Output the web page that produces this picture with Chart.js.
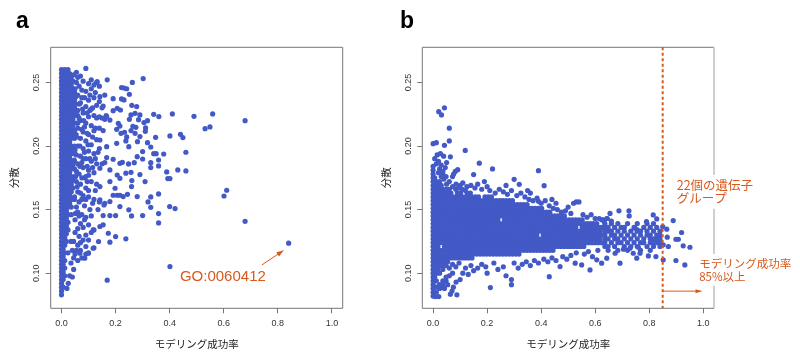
<!DOCTYPE html>
<html><head><meta charset="utf-8">
<script src="https://cdn.jsdelivr.net/npm/chart.js@4.4.1/dist/chart.umd.min.js"></script>
<style>
html,body{margin:0;padding:0;background:#fff;}
#wrap{position:relative;width:800px;height:356px;overflow:hidden;}
#ca{position:absolute;left:0;top:0;}
#cb{position:absolute;left:370px;top:0;}
</style></head><body>
<div id="wrap"><canvas id="ca" width="370" height="356"></canvas><canvas id="cb" width="430" height="356"></canvas></div>
<script>
// ---------------- DATA ----------------
const xTicks = [0, 0.2, 0.4, 0.6, 0.8, 1.0];
const yTicks = [0.10, 0.15, 0.20, 0.25];
const xTitle = 'モデリング成功率';
const yTitle = '分散';
const panelLetters = ['a', 'b'];
const goLabel = 'GO:0060412';
const noteGroup = ['22個の遺伝子', 'グループ'];
const noteRate = ['モデリング成功率', '85%以上'];
const cutoff = 0.85;

// panel a: dense column, rows of [variance*1000, [success rate*1000 ...]]
const aCoreRows = [
[260,[0,12,24]],[257,[0,6,18,30]],[254,[0,12,24,36]],[251,[0,6,18,30,42]],[248,[0,12,24,36]],
[245,[0,6,18,30,42]],[242,[0,12,24,36,48]],[239,[0,6,18,30,42,54]],[236,[0,12,24,36,48]],
[233,[0,6,18,30,42,54]],[230,[0,12,24,36,48]],[227,[0,6,18,30,42,54]],[224,[0,12,24,36,48,60]],
[221,[0,6,18,30,42]],[218,[0,12,24,36,48,60]],[215,[0,6,18,30,42]],[212,[0,12,24,36,48]],
[209,[0,6,18,30,42,54]],[206,[0,12,24,36,48]],[203,[0,6,18,30]],[200,[0,12,24,36,48]],
[197,[0,6,18,30,42]],[194,[0,12,24,36,48]],[191,[0,6,18,30]],[188,[0,12,24,36,48]],
[185,[0,6,18,30,42]],[182,[0,12,24,36,48]],[179,[0,6,18,30]],[176,[0,12,24,36,48]],
[173,[0,6,18,30,42]],[170,[0,12,24,36]],[167,[0,6,18,30,42]],[164,[0,12,24,36]],
[161,[0,6,18,30]],[158,[0,12,24,36,48]],[155,[0,6,18,30]],[152,[0,12,24,36]],[149,[0,6,18]],
[146,[0,12,24,36]],[143,[0,6,18]],[140,[0,12,24]],[137,[0,6,18]],[134,[0,12,24]],[131,[0,6,18]],
[128,[0,12]],[125,[0,6,18]],[122,[0,12]],[119,[0,6]],[116,[0,12,24]],[113,[0,6]],[110,[0,12]],
[107,[0,6]],[104,[0,12]],[101,[0,6]],[98,[0,12]],[95,[0,6]],[92,[0]],[89,[0,6]],[86,[0]],[83,[0]]
];
// panel a: scattered gene groups [success rate, variance]
const aPoints = [
[.09,.261],[.06,.254],[.08,.251],[.10,.249],[.065,.247],[.075,.244],[.09,.243],[.11,.245],[.12,.248],[.13,.250],
[.06,.240],[.085,.238],[.10,.236],[.12,.238],[.07,.234],[.09,.231],[.11,.229],[.13,.232],[.06,.228],[.08,.226],
[.10,.223],[.12,.224],[.13,.222],[.14,.223],[.15,.222],[.16,.221],[.165,.224],[.07,.220],[.09,.218],[.11,.216],
[.06,.214],[.08,.211],[.10,.209],[.12,.212],[.14,.214],[.07,.206],[.09,.204],[.11,.201],[.13,.205],[.06,.200],
[.08,.198],[.10,.196],[.12,.194],[.14,.198],[.07,.192],[.09,.190],[.11,.188],[.13,.186],[.15,.186],[.16,.187],
[.06,.186],[.08,.183],[.10,.181],[.12,.179],[.065,.178],[.085,.175],[.11,.172],[.13,.170],[.07,.170],[.09,.167],
[.06,.164],[.08,.161],[.10,.160],[.12,.158],[.14,.156],[.16,.155],[.065,.156],[.085,.153],[.06,.148],[.075,.146],
[.09,.144],[.11,.145],[.05,.142],[.07,.139],[.08,.136],[.10,.138],[.12,.134],[.05,.132],[.065,.129],[.08,.126],
[.06,.122],[.07,.118],[.09,.121],[.10,.116],[.05,.115],[.06,.110],[.035,.125],[.04,.118],[.035,.108],[.045,.103],
[.03,.098],[.025,.092],[.04,.097],[.02,.088],
[.055,.258],[.07,.255],[.055,.25],[.075,.238],[.05,.233],[.065,.222],[.085,.215],[.055,.207],[.075,.213],[.095,.21],
[.055,.193],[.075,.187],[.095,.184],[.055,.18],[.075,.175],[.095,.172],[.055,.172],[.07,.163],[.09,.158],[.055,.152],
[.105,.15],[.06,.135],[.09,.13],[.045,.125],[.10,.126],[.11,.132],[.12,.12],[.075,.112],[.09,.115],[.115,.23],
[.105,.24],[.125,.214],[.135,.195],[.105,.19],[.125,.165],[.115,.155],[.135,.15],
[.045,.256],[.05,.245],[.048,.239],[.052,.226],[.058,.218],[.045,.211],[.05,.197],[.047,.189],[.052,.176],[.058,.168],
[.048,.160],[.052,.147],[.066,.233],[.078,.229],[.095,.226],[.082,.220],[.068,.2],[.098,.201],[.115,.207],[.085,.195],
[.10,.177],[.115,.183],[.068,.184],[.08,.19],[.125,.19],[.09,.176],[.075,.158],[.10,.165],[.085,.142],[.065,.145],
[.07,.124],[.055,.118],[.045,.112],[.105,.228],[.14,.235],[.15,.23],[.125,.242],[.11,.252],
[.169,.252],[.132,.2506],[.14,.247],[.222,.246],[.231,.2456],[.241,.245],[.251,.2406],[.262,.250],[.302,.253],
[.191,.2372],[.222,.237],[.231,.2362],[.142,.2388],[.16,.240],[.154,.2314],[.191,.2278],[.206,.2296],[.218,.2283],
[.26,.232],[.278,.231],[.272,.2257],[.257,.2244],[.167,.2231],[.179,.2204],[.21,.2178],[.216,.2157],[.251,.221],
[.264,.2155],[.285,.2207],[.29,.2244],[.305,.2184],[.311,.2142],[.318,.2199],[.341,.2249],[.36,.2231],[.154,.2121],
[.204,.2131],[.22,.21],[.233,.2108],[.241,.2071],[.257,.2121],[.275,.2147],[.272,.21],[.29,.2074],[.31,.2115],
[.348,.2068],[.142,.2047],[.167,.1995],[.204,.2021],[.238,.204],[.249,.1995],[.281,.2034],[.318,.2026],[.33,.1992],
[.341,.194],[.35,.194],[.30,.1956],[.378,.1937],[.167,.1909],[.191,.1896],[.216,.1864],[.225,.1872],[.248,.1859],
[.269,.1869],[.28,.1916],[.30,.1898],[.33,.1869],[.359,.189],[.359,.1843],[.33,.183],[.142,.1825],[.179,.1812],
[.206,.1772],[.216,.1746],[.238,.1786],[.257,.1793],[.29,.1775],[.309,.172],[.26,.1728],[.389,.1796],[.393,.1744],
[.401,.1744],[.43,.1812],[.46,.1804],[.46,.1951],[.44,.2092],[.449,.2066],[.41,.2252],[.401,.2079],[.401,.1052],
[.49,.2233],[.531,.2136],[.549,.215],[.559,.2252],[.601,.1607],[.611,.1652],[.679,.2199],[.679,.1408],[.84,.1236],
[.142,.1681],[.179,.172],[.198,.1668],[.191,.1613],[.206,.1613],[.216,.1613],[.228,.1602],[.244,.162],[.259,.1681],
[.28,.1602],[.33,.16],[.359,.1623],[.142,.1576],[.157,.1537],[.179,.1563],[.216,.1524],[.249,.1498],[.259,.145],
[.30,.1453],[.32,.156],[.33,.1518],[.359,.1469],[.40,.1524],[.42,.1508],[.154,.1453],[.179,.1453],[.20,.1453],
[.142,.1367],[.154,.138],[.173,.1314],[.20,.1288],[.238,.127],[.117,.134],[.137,.1249],[.179,.1244],[.359,.1395],
[.169,.0945],[.117,.1196],[.099,.1157],[.086,.1118],[.068,.1157]
];

// panel b: dense band, rows of [variance*1000, [success rate*1000 ...]]
const bCoreRows = [
[178,[0]],[175,[0,6]],[172,[0,12,24]],[169,[0,6,18,30]],[166,[0,12,24,36,48,60]],
[163,[0,6,18,30,42,54,66,90,102,126,138]],
[160,[0,12,24,36,48,60,72,84,96,108,120,132,144,156,168,192,204,216]],
[157,[0,6,18,30,42,54,66,78,90,102,114,126,138,150,162,174,186,198,210,222,234,246,258,270,282,294]],
[154,[0,12,24,36,48,60,72,84,96,108,120,132,144,156,168,180,192,204,216,228,240,252,264,276,288,300,312,324,336,348]],
[151,[0,6,18,30,42,54,66,78,90,102,114,126,138,150,162,174,186,198,210,222,234,246,258,270,282,294,306,318,330,342,354,366,378,390,402]],
[148,[0,12,24,36,48,60,72,84,96,108,120,132,144,156,168,180,192,204,216,228,240,252,264,276,288,300,312,324,336,348,360,372,384,396,408,420,432]],
[145,[0,6,18,30,42,54,66,78,90,102,114,126,138,150,162,174,186,198,210,222,234,246,258,270,282,294,306,318,330,342,354,366,378,390,402,414,426,438,450,462,474,486]],
[142,[0,12,24,36,48,60,72,84,96,108,120,132,144,156,168,180,192,204,216,228,240,264,276,288,300,312,324,336,348,360,372,384,396,408,420,432,444,456,468,480,492,504,516,528,540,552]],
[139,[0,6,18,30,42,54,66,78,90,102,114,126,138,150,162,174,186,198,210,222,234,246,258,270,282,294,306,318,330,342,354,366,378,390,402,414,426,438,450,462,474,486,498,510,522,534,546,558,570,582,594,606]],
[136,[0,12,24,36,48,60,72,84,96,108,120,132,144,156,168,180,192,204,216,228,240,252,264,276,288,300,312,324,336,348,360,372,384,396,408,420,432,444,456,468,480,492,504,516,528,552,564,576,588,600,612,624]],
[133,[0,6,18,30,42,54,66,78,90,102,114,126,138,150,162,174,186,198,210,222,234,246,258,270,282,294,306,318,330,342,354,366,378,390,402,414,426,438,450,462,474,486,498,510,522,534,546,558,570,582,594,606,618]],
[130,[0,12,24,36,48,60,72,84,96,108,120,132,144,156,168,180,192,204,216,228,240,252,264,276,288,300,312,324,336,348,360,372,384,408,420,432,444,456,468,480,492,504,516,528,540,552,564,576,588,600,612,624]],
[127,[0,6,18,30,42,54,66,78,90,102,114,126,138,150,162,174,186,198,210,222,234,246,258,270,282,294,306,318,330,342,354,366,378,390,402,414,426,438,450,462,474,486,498,510,522,534,546,558,570,582,594,606,618]],
[124,[0,12,24,36,48,60,72,84,96,108,120,132,144,156,168,180,192,204,216,228,240,252,264,276,288,300,312,324,336,348,360,372,384,396,408,420,432,444,456,468,480,492,504,516,528,540,552,564,576,588,600,612,624]],
[121,[0,6,18,42,54,66,78,90,102,114,126,138,150,162,174,186,198,210,222,234,246,258,270,282,294,306,318,330,342,354,366,378,390,402,414,426,438,450,462,474,486,498,510,522,534,546,558]],
[118,[0,12,24,36,48,60,72,84,96,108,120,132,144,156,168,180,192,204,216,228,240,252,264,276,288,300,312,324,336,348,360,372,384,396,408,420,432,444]],
[115,[0,6,18,30,42,54,66,78,90,102,114,126,138,150,162,174,186,198,210,222,234,246,258,270,282,294,306,318]],
[112,[0,12,24,36,48,60,72,84,96,108,120,132,144]],
[109,[0,6,18,30,42,54]],[106,[0,12,24,36]],[103,[0,6,18]],[100,[0,12]],[97,[0,6]],[94,[0,12]],
[91,[0]],[88,[0]],[85,[0]]
];
// panel b: thinner part of the band near the cutoff
const bMidRows = [
[139,[636,660,684,720,756,792,816]],
[136,[636,648,672,696,708,744,780,804,828]],
[133,[636,648,660,684,708,732,756,768,792,816,840]],
[130,[636,660,672,696,720,744,768,792,804,828,840]],
[127,[636,648,672,684,708,732,756,780,804,816,828,840]],
[124,[636,660,684,696,720,744,768,780,804,816,828,840]],
[121,[636,648,672,708,732,756,792,816,840]],
[118,[648,684,720,768,804]]
];
// panel b: scattered gene groups [success rate, variance]
const bPoints = [
[0,.181],[0,.184],[.012,.186],[.006,.190],[.015,.193],[.027,.194],[.039,.192],[.02,.188],[.03,.185],[.045,.183],
[0,.2018],[.012,.2026],[.042,.2005],[.06,.204],[.06,.214],[.021,.227],[.031,.2244],[.042,.230],[.064,.1915],[.05,.187],
[.036,.178],[.048,.176],[.06,.172],[.072,.176],[.076,.178],[.082,.180],[.091,.1814],[.119,.1965],[.171,.1865],[.22,.182],
[.15,.1775],[.30,.1738],[.39,.1806],[.411,.1688],[.319,.1699],
[.085,.170],[.10,.169],[.11,.171],[.125,.168],[.14,.169],[.155,.167],[.165,.170],[.18,.166],[.20,.168],[.21,.165],
[.23,.163],[.245,.166],[.26,.164],[.275,.162],[.29,.165],[.31,.161],[.325,.163],[.34,.160],[.355,.158],[.37,.157],
[.385,.159],[.40,.155],[.415,.157],[.43,.153],[.445,.151],[.46,.150],[.475,.148],[.49,.149],[.51,.147],[.52,.155],
[.53,.156],[.54,.156],[.50,.152],[.555,.146],[.57,.144],[.585,.146],[.60,.143],[.615,.143],[.63,.142],[.645,.143],
[.66,.141],[.35,.165],[.36,.163],[.27,.169],[.19,.172],[.44,.158],[.455,.155],[.39,.1565],
[.072,.168],[.084,.166],[.096,.167],[.108,.166],[.12,.165],[.05,.170],[.03,.176],[.04,.174],[.02,.179],[.024,.182],[.036,.180],
[0,.082],[.008,.0816],[.021,.0816],[.012,.085],[.024,.088],[.036,.091],[.048,.094],[.06,.098],[.064,.0835],[.07,.086],
[.088,.083],[.075,.089],[.085,.093],[.10,.095],[.11,.100],[.12,.104],[.13,.099],[.14,.106],[.15,.102],[.165,.104],
[.18,.107],[.195,.105],[.212,.0887],[.20,.100],[.225,.108],[.24,.103],[.26,.105],[.27,.098],[.29,.095],[.29,.091],
[.30,.108],[.315,.104],[.33,.107],[.345,.109],[.36,.106],[.375,.110],[.39,.108],[.41,.111],[.43,.0973],[.425,.109],
[.44,.112],[.455,.110],[.47,.1052],[.48,.113],[.495,.111],[.51,.114],[.526,.1079],[.53,.116],[.55,.1065],[.56,.115],
[.575,.117],[.581,.1026],[.59,.113],[.606,.1105],[.61,.118],[.624,.1079],[.643,.1118],[.674,.1157],[.692,.1079],[.705,.1189],
[.729,.1196],[.741,.1157],[.754,.1118],[.766,.1157],[.76,.1204],[.797,.1136],[.825,.1131],[.852,.1105],[.852,.1223],[.871,.121],
[.867,.1283],[.865,.1346],[.889,.1414],[.899,.1267],[.908,.1267],[.92,.132],[.926,.1215],[.951,.1204],[.932,.1065],[.899,.110],
[.85,.1367],[.828,.1427],[.815,.1458],[.79,.1406],[.756,.134],[.748,.1353],[.726,.145],[.725,.149],[.688,.149],[.655,.147],
[.643,.143],[.633,.1406],[.624,.142],
[.024,.100],[.036,.103],[.048,.106],[.06,.104],[.072,.107],[.084,.105],[.096,.108],[.072,.1],[.048,.097],[.036,.094],
[.024,.091],[.012,.089],[.054,.091],[.042,.088]
];

// ---------------- RENDERING ----------------
const FONT = '"Liberation Sans", Arial, Helvetica, sans-serif';
const JFONT = '"Noto Sans CJK JP", "Noto Sans", sans-serif';
const DOT = '#4259C6';
const ACCENT = '#D9591C';
const BOX = '#767676';
Chart.defaults.font.family = FONT;

function rowsToPts(rows) { const out = []; rows.forEach(([y, xs]) => xs.forEach(x => out.push({x: x / 1000, y: y / 1000}))); return out; }
function pairsToPts(p) { return p.map(([x, y]) => ({x, y})); }

function makeOptions(L) {
  return {
    responsive: false, animation: false, devicePixelRatio: 1, events: [],
    layout: {padding: {left: L.pl, right: L.pr, top: 47.3, bottom: 5.8}},
    plugins: {legend: {display: false}, tooltip: {enabled: false}},
    scales: {
      x: {
        type: 'linear', min: -0.04, max: 1.04,
        afterBuildTicks: s => { s.ticks = xTicks.map(v => ({value: v})); },
        afterFit: s => { s.height = 41.9; },
        ticks: {autoSkip: false, maxRotation: 0, minRotation: 0, padding: 5, color: '#333',
                font: {family: FONT, size: 9}, callback: v => Number(v).toFixed(1)},
        grid: {drawOnChartArea: false, drawTicks: true, tickLength: 5, tickColor: BOX, tickWidth: 1},
        border: {display: false},
        title: {display: true, text: xTitle, color: '#222', font: {family: JFONT, size: 10.5}, padding: {top: 0, bottom: 0}}
      },
      y: {
        type: 'linear', min: 0.0724, max: 0.2776,
        afterBuildTicks: s => { s.ticks = yTicks.map(v => ({value: v})); },
        afterFit: s => { s.width = L.wy; },
        ticks: {autoSkip: false, minRotation: 90, maxRotation: 90, crossAlign: 'center', padding: 0, color: '#333',
                font: {family: FONT, size: 9}, callback: v => Number(v).toFixed(2)},
        grid: {drawOnChartArea: false, drawTicks: true, tickLength: 5, tickColor: BOX, tickWidth: 1},
        border: {display: false},
        title: {display: true, text: yTitle, color: '#222', font: {family: JFONT, size: 10.5}, padding: {top: 0, bottom: 0}}
      }
    }
  };
}

function arrow(ctx, x1, y1, x2, y2, head, hw) {
  ctx.beginPath(); ctx.moveTo(x1, y1); ctx.lineTo(x2, y2); ctx.stroke();
  const a = Math.atan2(y2 - y1, x2 - x1);
  ctx.beginPath();
  ctx.moveTo(x2, y2);
  ctx.lineTo(x2 - head * Math.cos(a) + hw * Math.sin(a), y2 - head * Math.sin(a) - hw * Math.cos(a));
  ctx.lineTo(x2 - head * Math.cos(a) - hw * Math.sin(a), y2 - head * Math.sin(a) + hw * Math.cos(a));
  ctx.closePath(); ctx.fill();
}

function decoPlugin(letter, letterX, rightEdgeColor, extra) {
  return {
    id: 'deco' + letter,
    afterDraw(chart) {
      const {ctx, chartArea: ca, scales} = chart;
      ctx.save();
      ctx.lineWidth = 1;
      ctx.strokeStyle = BOX;
      ctx.beginPath();
      ctx.moveTo(ca.right, ca.top); ctx.lineTo(ca.left, ca.top); ctx.lineTo(ca.left, ca.bottom); ctx.lineTo(ca.right, ca.bottom);
      ctx.stroke();
      ctx.strokeStyle = rightEdgeColor; ctx.lineWidth = rightEdgeColor === BOX ? 1 : 1.6;
      ctx.beginPath(); ctx.moveTo(ca.right, ca.top); ctx.lineTo(ca.right, ca.bottom); ctx.stroke();
      ctx.fillStyle = '#000';
      ctx.font = 'bold 23px ' + FONT;
      ctx.textAlign = 'left'; ctx.textBaseline = 'alphabetic';
      ctx.fillText(letter, letterX, 28);
      if (extra) extra(ctx, scales.x, scales.y, ca);
      ctx.restore();
    }
  };
}

function drawNote(ctx, lines, left, centers, size) {
  ctx.font = size + 'px ' + JFONT;
  ctx.textAlign = 'left'; ctx.textBaseline = 'middle';
  const w = Math.max(...lines.map(t => ctx.measureText(t).width));
  ctx.fillStyle = '#fff';
  ctx.fillRect(left - 3, centers[0] - size * 0.8, w + 6, centers[centers.length - 1] - centers[0] + size * 1.6);
  ctx.fillStyle = ACCENT;
  lines.forEach((t, i) => ctx.fillText(t, left, centers[i]));
}

const ds = (pts) => ({data: pts, pointRadius: 2.6, pointHoverRadius: 2.6, pointBackgroundColor: DOT,
                      pointBorderWidth: 0, showLine: false});

new Chart(document.getElementById('ca'), {
  type: 'scatter',
  data: {datasets: [ds(rowsToPts(aCoreRows).concat(pairsToPts(aPoints)))]},
  options: makeOptions({pl: 7.8, pr: 27.3, wy: 42.9}),
  plugins: [decoPlugin(panelLetters[0], 16, BOX, (ctx, x, y) => {
    ctx.fillStyle = ACCENT; ctx.strokeStyle = ACCENT; ctx.lineWidth = 1;
    ctx.font = '15px ' + FONT; ctx.textAlign = 'left'; ctx.textBaseline = 'middle';
    ctx.fillText(goLabel, x.getPixelForValue(0.438), y.getPixelForValue(0.0973));
    arrow(ctx, x.getPixelForValue(0.741), y.getPixelForValue(0.1065),
               x.getPixelForValue(0.821), y.getPixelForValue(0.1178), 7, 2.5);
  })]
});

new Chart(document.getElementById('cb'), {
  type: 'scatter',
  data: {datasets: [ds(rowsToPts(bCoreRows).concat(rowsToPts(bMidRows), pairsToPts(bPoints)))]},
  options: makeOptions({pl: 9.5, pr: 86, wy: 42.8}),
  plugins: [decoPlugin(panelLetters[1], 30, '#c4c4c4', (ctx, x, y, ca) => {
    const cx = x.getPixelForValue(cutoff);
    ctx.strokeStyle = ACCENT; ctx.lineWidth = 2; ctx.setLineDash([3, 2.5]);
    ctx.beginPath(); ctx.moveTo(cx, ca.top); ctx.lineTo(cx, ca.bottom); ctx.stroke();
    ctx.setLineDash([]); ctx.lineWidth = 1; ctx.fillStyle = ACCENT;
    const ay = y.getPixelForValue(0.0859);
    arrow(ctx, cx, ay, x.getPixelForValue(0.994), ay, 6, 2);
    drawNote(ctx, noteGroup, x.getPixelForValue(0.902), [y.getPixelForValue(0.1694), y.getPixelForValue(0.1586)], 12.5);
    drawNote(ctx, noteRate, x.getPixelForValue(0.985), [y.getPixelForValue(0.1079), y.getPixelForValue(0.0973)], 11.5);
  })]
});
</script>
</body></html>
